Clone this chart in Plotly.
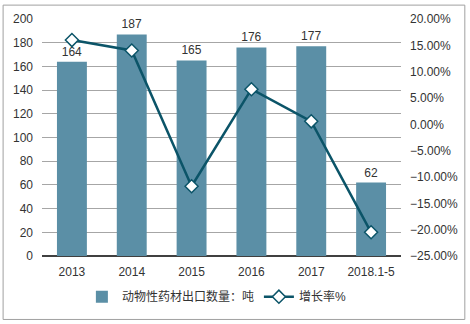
import plotly.graph_objects as go

categories = ["2013", "2014", "2015", "2016", "2017", "2018.1-5"]
export_tons = [164, 187, 165, 176, 177, 62]
growth_pct = [16.0, 14.02, -11.76, 6.67, 0.57, -20.5]
bar_name = "动物性药材出口数量：吨"
line_name = "增长率%"

W, H = 470, 324
L, R, T, B = 42, 402, 17, 256
pw, ph = R - L, B - T

def px(x):
    return (x - L) / pw

def py(y):
    return (B - y) / ph

font = "Liberation Sans, Noto Sans CJK SC, Arial, sans-serif"

fig = go.Figure()
fig.add_trace(go.Bar(
    x=categories, y=export_tons, name=bar_name,
    marker=dict(color="#5B8FA6", line=dict(width=0)),
    text=[str(v) for v in export_tons], textposition="outside",
    textfont=dict(size=12, color="#333333"), cliponaxis=False,
))
fig.add_trace(go.Scatter(
    x=categories, y=growth_pct, name=line_name, yaxis="y2",
    mode="lines+markers",
    line=dict(color="#0B5468", width=2.5),
    marker=dict(symbol="diamond", size=10, color="white",
                line=dict(color="#0B5468", width=1.5)),
))

fig.update_layout(
    width=W, height=H,
    margin=dict(l=L, r=W - R, t=T, b=H - B),
    paper_bgcolor="white", plot_bgcolor="white",
    font=dict(family=font, size=12, color="#333333"),
    bargap=0.5,
    showlegend=True,
    legend=dict(orientation="h", x=px(82), xanchor="left", y=py(297), yanchor="middle",
                font=dict(size=12, color="#333333"), itemwidth=30, traceorder="normal",
                tracegroupgap=0),
    xaxis=dict(showgrid=False, showline=True, linecolor="#404040", linewidth=1,
               ticks="", tickfont=dict(size=12), ticklabelstandoff=5),
    yaxis=dict(range=[0, 200], dtick=20, showgrid=True, gridcolor="#A6A6A6", gridwidth=1,
               zeroline=True, zerolinecolor="#404040", ticks="", ticklabelstandoff=8),
    yaxis2=dict(range=[-25, 20], dtick=5, overlaying="y", side="right", showgrid=False,
                zeroline=False, tickformat=".2f", ticksuffix="%", ticks="",
                ticklabelstandoff=8),
    shapes=[dict(type="rect", xref="paper", yref="paper",
                 x0=px(3), x1=px(466), y0=py(320), y1=py(3),
                 line=dict(color="#A0A0A0", width=1), fillcolor="rgba(0,0,0,0)", layer="below")],
)

fig.write_html("out.html")
